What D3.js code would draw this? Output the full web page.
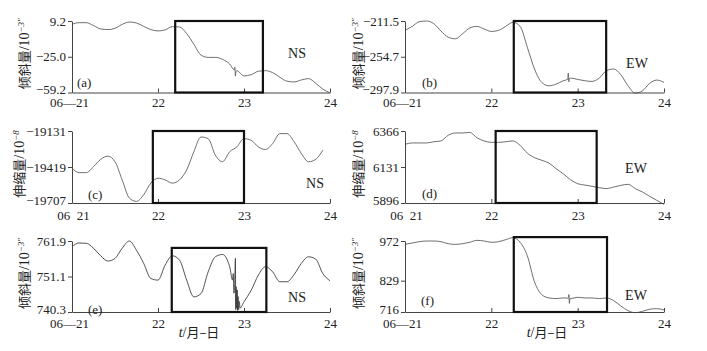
<!DOCTYPE html>
<html>
<head>
<meta charset="utf-8">
<script src="https://cdn.jsdelivr.net/npm/d3@7"></script>
<style>
body{margin:0;background:#fff;}
text{font-family:"Liberation Serif","Times New Roman",serif;fill:#222;}
.cjk{font-family:"Noto Sans CJK SC",sans-serif;}
</style>
</head>
<body>
<svg id="chart" width="707" height="351"></svg>
<script>
// time grid, hours since 06-21 00:00
var hrs=[0,2,4,6,8,10,12,14,16,18,20,22,24,26,28,30,32,34,36,38,40,42,44,46,48,50,52,54,56,58,60,62,64,66,68,70,72];
var dayTicks=[21,22,23,24];
var dayLbl=["06\u201421","22","23","24"];
var dayLbl2=["06\u200221","22","23","24"];

var valA=[6.0,7.6,7.6,4.8,1.6,1.0,2.2,6.0,8.2,7.3,4.1,1.0,-0.3,0.7,3.8,3.5,-2.8,-13.0,-23.4,-25.6,-25.6,-27.5,-32.0,-38.3,-43.4,-42.1,-38.9,-38.3,-40.2,-44.6,-48.4,-49.1,-47.2,-45.9,-50.3,-56.0,-59.5];
var valB=[-222.9,-218.0,-212.3,-211.5,-214.7,-223.7,-231.0,-233.0,-226.9,-220.0,-218.0,-221.2,-224.1,-222.9,-218.0,-213.1,-218.0,-243.1,-269.5,-285.7,-289.8,-287.8,-283.7,-280.5,-282.1,-283.7,-284.5,-280.5,-271.5,-269.5,-276.4,-289.8,-298.7,-295.9,-286.9,-282.9,-285.7];
var valC=[-19429,-19464,-19464,-19416,-19358,-19332,-19377,-19522,-19667,-19694,-19641,-19548,-19509,-19522,-19548,-19522,-19443,-19297,-19179,-19192,-19324,-19377,-19297,-19258,-19192,-19205,-19258,-19279,-19231,-19152,-19152,-19218,-19311,-19377,-19358,-19284];
var valD=[6279,6288,6288,6288,6296,6301,6338,6353,6353,6357,6322,6301,6292,6292,6296,6301,6272,6222,6192,6175,6157,6120,6087,6048,6022,6013,6005,5996,5990,6000,6011,6018,5990,5968,5940,5913,5887];
var valE=[760.2,761.3,761.2,759.7,757.4,755.8,756.6,759.7,761.9,759.1,755.1,750.5,750.0,754.6,757.4,756.1,750.0,744.9,745.9,752.5,757.1,757.8,754.1,742.3,743.4,746.9,751.5,754.1,752.5,749.5,749.5,751.7,755.1,757.1,756.4,752.0,749.8];
var valF=[959.9,964.8,969.6,972.0,972.0,969.6,962.3,959.9,962.3,967.2,974.4,972.0,967.2,969.6,976.8,984.1,967.2,918.9,824.7,778.8,766.7,764.3,766.7,764.3,769.1,766.7,766.7,764.3,766.7,757.1,737.7,720.8,713.6,718.4,725.7,728.1,723.3];

// short disturbances near 06-22 21h
var spkHrsA=[45.3,45.45,45.6,45.75], spkA=[-37.5,-35.0,-43.5,-39.0];
var spkHrsB=[45.2,45.4,45.55,45.7], spkB=[-282,-274.5,-285,-281];
var spkHrsE=[44.8,45.0,45.2,45.4,45.6,45.7,45.8,45.9,46.1,46.2,46.35,46.5,46.7,46.9];
var spkE=[750,752,746,749,756.6,741,748,741.5,747,740.8,745,741,743.5,741.5];
var spkHrsF=[45.4,45.55,45.7,45.85], spkF=[766,779,747,765];

var yTicks=[[9.2,-25.0,-59.2],[-211.5,-254.7,-297.9],[-19131,-19419,-19707],[6366,6131,5896],[761.9,751.1,740.3],[972,829,716]];
var yFmt=[".1f",".1f","d","d",".1f","d"];
var boxT0=[22.2,22.26,21.94,22.05,22.16,22.26], boxT1=[23.22,23.33,23.0,23.22,23.26,23.34];
var boxTop=[9.2,-211.5,-19131,6366,759.8,986];
var tags=["(a)","(b)","(c)","(d)","(e)","(f)"];
var comps=["NS","EW","NS","EW","NS","EW"];

var series=[
 {v:valA,sh:spkHrsA,sv:spkA},{v:valB,sh:spkHrsB,sv:spkB},
 {v:valC,sh:[],sv:[]},{v:valD,sh:[],sv:[]},
 {v:valE,sh:spkHrsE,sv:spkE},{v:valF,sh:spkHrsF,sv:spkF}];

// layout
var cols=[[72,330],[405,664]];
var rows=[[21,92.5],[131,203],[241,312]];
var tpad=[5,8,7];
var compPos=[[297,53],[637,63],[315,183],[636,168],[297,297],[636,295]];
var tagPos=[[77,82],[422,82],[88,194],[422,193],[88,309],[421,300]];
var ylabX=[24,358,19,358,24,358];

var svg=d3.select("#chart");

series.forEach(function(s,i){
  var c=cols[i%2], r=rows[Math.floor(i/2)];
  var yt=yTicks[i];
  var x=d3.scaleLinear().domain([21,24]).range(c);
  var y=d3.scaleLinear().domain([d3.min(yt),d3.max(yt)]).range([r[1],r[0]]);
  var g=svg.append("g");

  var pts=s.v.map(function(v,k){return [21+hrs[k]/24,v];});
  s.sh.forEach(function(h,k){pts.push([21+h/24,s.sv[k]]);});
  pts.sort(function(a,b){return a[0]-b[0];});

  g.append("path")
   .attr("d",d3.line().x(function(d){return x(d[0]);}).y(function(d){return y(d[1]);}).curve(d3.curveMonotoneX)(pts))
   .attr("fill","none")
   .attr("stroke",i==4?"#333":"#555")
   .attr("stroke-width",0.85);

  var ya=g.append("g").attr("transform","translate("+c[0]+",0)")
    .call(d3.axisLeft(y).tickValues(yt).tickSize(4).tickSizeOuter(0).tickPadding(2)
      .tickFormat(function(d){return d3.format(yFmt[i])(d).replace("-","\u2212");}));
  var xa=g.append("g").attr("transform","translate(0,"+r[1]+")")
    .call(d3.axisBottom(x).tickValues(dayTicks).tickSize(-4).tickSizeOuter(0).tickPadding(tpad[Math.floor(i/2)])
      .tickFormat(function(d,k){return (Math.floor(i/2)==1?dayLbl2:dayLbl)[k];}));
  [ya,xa].forEach(function(a){
    a.selectAll("path,line").attr("stroke","#444");
    a.selectAll("text").style("font-size","13px").style("font-family",null).attr("fill","#222");
  });
  // lowest value label sits a little above its tick
  ya.selectAll(".tick text").filter(function(d){return d==d3.min(yt);}).attr("dy","0.1em");
  xa.selectAll(".tick text").filter(function(d){return d==21;}).attr("dx",Math.floor(i/2)==1?"1":"-3");

  g.append("rect")
   .attr("x",x(boxT0[i])).attr("width",x(boxT1[i])-x(boxT0[i]))
   .attr("y",y(boxTop[i])).attr("height",y(d3.min(yt))-y(boxTop[i]))
   .attr("fill","none").attr("stroke","#111").attr("stroke-width",2.2);

  g.append("text").attr("x",compPos[i][0]).attr("y",compPos[i][1]).attr("dy",".35em")
   .attr("text-anchor","middle").style("font-size","14px").text(comps[i]);
  g.append("text").attr("x",tagPos[i][0]).attr("y",tagPos[i][1]).attr("dy",".35em")
   .style("font-size","13px").text(tags[i]);

  var lab=g.append("text").attr("transform","rotate(-90)")
   .attr("x",-((r[0]+r[1])/2-3)).attr("y",ylabX[i]+5)
   .attr("text-anchor","middle").style("font-size","14px");
  lab.append("tspan").attr("class","cjk").style("font-size","13px").text(i==2||i==3?"伸缩量":"倾斜量");
  lab.append("tspan").text("/10");
  lab.append("tspan").attr("baseline-shift","super").style("font-size","9px").style("font-style","italic")
   .text(i==2||i==3?"\u22128":"\u22123\u2033");
});

// time axis titles
[199,547].forEach(function(cx){
  var t=svg.append("text").attr("x",cx).attr("y",332).attr("dy",".35em")
    .attr("text-anchor","middle").style("font-size","14px");
  t.append("tspan").style("font-style","italic").text("t");
  t.append("tspan").text("/");
  t.append("tspan").attr("class","cjk").style("font-size","13px").text("月\u2013日");
});
</script>
</body>
</html>
